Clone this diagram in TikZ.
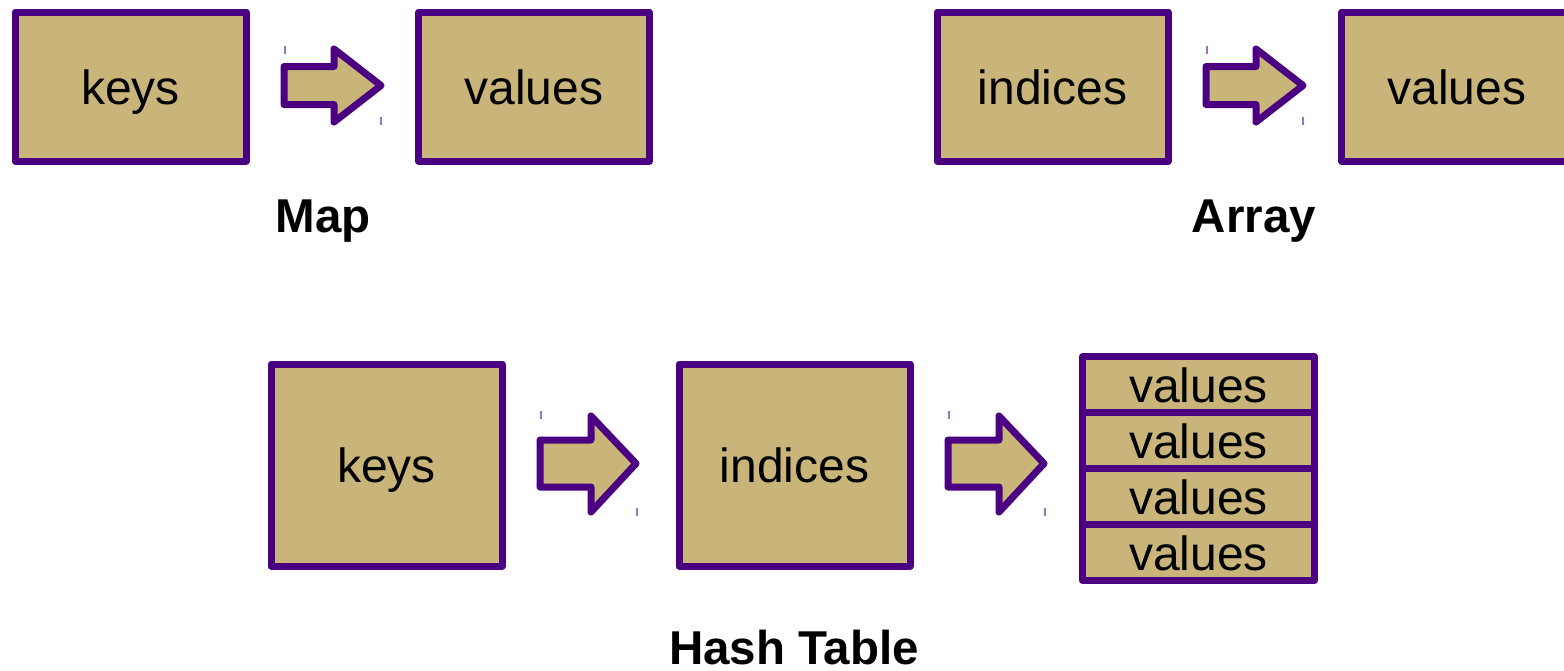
\documentclass[tikz,border=0pt]{standalone}
\usepackage{fontspec}
\setmainfont{Liberation Sans}
\definecolor{boxfill}{HTML}{C9B579}
\definecolor{boxline}{HTML}{4B0082}
\begin{document}
\begin{tikzpicture}[x=1pt,y=-1pt,
  cell/.style={draw=boxline, fill=boxfill, line width=7pt, line join=round,
    inner sep=0pt, text height=35pt, text depth=0pt,
    font=\fontsize{48}{57}\selectfont},
  caption/.style={anchor=base, inner sep=0pt, font=\fontsize{47.5}{57}\selectfont\bfseries},
  blockarrow/.style={draw=boxline, fill=boxfill, line width=7pt, line join=round},
  tick/.style={draw=boxline!55, line width=1.3pt}]
\clip (0,0) rectangle (1564,670);
\useasboundingbox (0,0) rectangle (1564,670);

% Map
\node[cell, minimum width=231pt, minimum height=149pt] (mkeys) at (130.5,86.5) {keys};
\node[cell, minimum width=231pt, minimum height=149pt] (mvals) at (534,86.5) {values};
\node[caption] (maplbl) at (323,232) {Map};
\draw[blockarrow] (284,66.5) -- (334,66.5) -- (334,49) -- (381,85.5) -- (334,122) -- (334,104.5) -- (284,104.5) -- cycle;
\draw[tick] (285,46) -- (285,54);
\draw[tick] (381,117) -- (381,125);

% Array
\node[cell, minimum width=231pt, minimum height=149pt] (aidx) at (1052.5,86.5) {indices};
\node[cell, minimum width=231pt, minimum height=149pt] (avals) at (1457,86.5) {values};
\node[caption] (arraylbl) at (1254,232) {Array};
\begin{scope}[xshift=922pt]
\draw[blockarrow] (284,66.5) -- (334,66.5) -- (334,49) -- (381,85.5) -- (334,122) -- (334,104.5) -- (284,104.5) -- cycle;
\draw[tick] (285,46) -- (285,54);
\draw[tick] (381,117) -- (381,125);
\end{scope}

% Hash table
\node[cell, minimum width=231pt, minimum height=202pt] (hkeys) at (386.5,465) {keys};
\node[cell, minimum width=231pt, minimum height=202pt] (hidx) at (794.5,465) {indices};
\foreach \i/\y in {1/384.5,2/440.5,3/496.5,4/552.5}
  \node[cell, minimum width=232pt, minimum height=56pt] (hval\i) at (1198.5,\y) {values};
\node[caption] (hashlbl) at (794,664) {Hash Table};
\foreach \dx in {0,408}{
\begin{scope}[xshift=\dx pt]
\draw[blockarrow] (540,440) -- (591,440) -- (591,416) -- (636,463.5) -- (591,512) -- (591,487) -- (540,487) -- cycle;
\draw[tick] (541,411) -- (541,419);
\draw[tick] (637,508) -- (637,516);
\end{scope}}
\end{tikzpicture}
\end{document}
